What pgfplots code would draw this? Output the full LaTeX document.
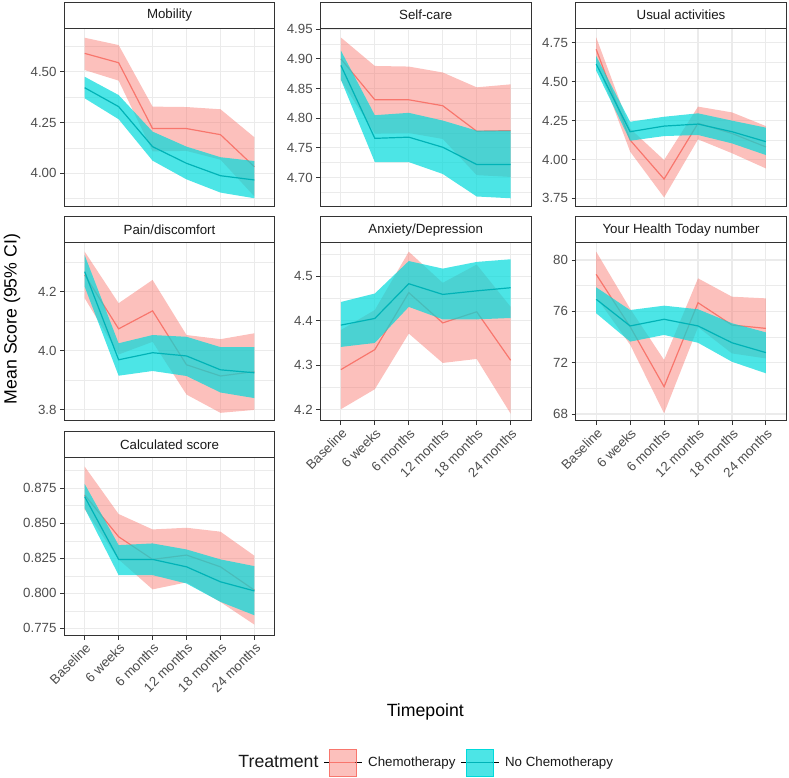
\documentclass[border=0pt]{standalone}
\usepackage{fontspec}
\setmainfont{Liberation Sans}
\usepackage{pgfplots}
\pgfplotsset{compat=1.18}
\usepackage{pgfplotstable}
\usepgfplotslibrary{fillbetween}

\definecolor{chemo}{HTML}{F8766D}
\definecolor{nochemo}{HTML}{00B3B7}
\definecolor{nofill}{RGB}{0,218,219}
\definecolor{gridc}{HTML}{EBEBEB}
\definecolor{bordc}{HTML}{333333}
\definecolor{tickc}{HTML}{4D4D4D}
\definecolor{stripc}{HTML}{1A1A1A}

\pgfplotstableread{
x cl cm cu nl nm nu
0 4.508 4.590 4.667 4.369 4.421 4.475
1 4.456 4.544 4.631 4.266 4.328 4.385
2 4.108 4.220 4.328 4.062 4.131 4.205
3 4.110 4.220 4.326 3.970 4.049 4.131
4 4.067 4.190 4.315 3.905 3.988 4.079
5 3.886 4.032 4.177 3.877 3.967 4.060
}\mobility

\pgfplotstableread{
x cl cm cu nl nm nu
0 4.864 4.900 4.936 4.865 4.889 4.914
1 4.774 4.831 4.888 4.726 4.766 4.805
2 4.775 4.831 4.887 4.726 4.768 4.809
3 4.765 4.821 4.877 4.706 4.751 4.796
4 4.704 4.778 4.852 4.668 4.722 4.779
5 4.701 4.779 4.857 4.665 4.722 4.779
}\selfcare

\pgfplotstableread{
x cl cm cu nl nm nu
0 4.630 4.707 4.784 4.570 4.613 4.664
1 4.050 4.124 4.198 4.120 4.178 4.242
2 3.756 3.874 3.996 4.150 4.214 4.274
3 4.129 4.232 4.339 4.157 4.227 4.296
4 4.040 4.167 4.302 4.103 4.178 4.249
5 3.942 4.080 4.214 4.028 4.114 4.204
}\usual

\pgfplotstableread{
x cl cm cu nl nm nu
0 4.178 4.257 4.336 4.217 4.268 4.324
1 3.987 4.074 4.161 3.915 3.969 4.025
2 4.030 4.135 4.240 3.931 3.993 4.053
3 3.851 3.952 4.053 3.914 3.982 4.047
4 3.789 3.914 4.039 3.858 3.935 4.012
5 3.799 3.929 4.059 3.839 3.925 4.012
}\pain

\pgfplotstableread{
x cl cm cu nl nm nu
0 4.201 4.290 4.379 4.341 4.390 4.442
1 4.246 4.335 4.424 4.350 4.405 4.461
2 4.371 4.463 4.555 4.431 4.483 4.534
3 4.305 4.395 4.485 4.403 4.459 4.517
4 4.314 4.420 4.526 4.403 4.467 4.532
5 4.191 4.311 4.431 4.406 4.474 4.538
}\anxiety

\pgfplotstableread{
x cl cm cu nl nm nu
0 77.10 78.88 80.65 75.85 76.94 77.87
1 73.40 74.80 76.20 73.64 74.86 76.10
2 68.05 70.13 72.21 74.16 75.38 76.44
3 74.77 76.67 78.57 73.55 74.86 76.16
4 72.72 74.93 77.14 72.07 73.55 75.07
5 72.33 74.67 77.01 71.17 72.78 74.36
}\health

\pgfplotstableread{
x cl cm cu nl nm nu
0 0.8600 0.8702 0.8905 0.8607 0.8690 0.8781
1 0.8242 0.8404 0.8566 0.8130 0.8242 0.8344
2 0.8028 0.8242 0.8456 0.8130 0.8242 0.8356
3 0.8078 0.8273 0.8468 0.8070 0.8189 0.8313
4 0.7938 0.8189 0.8440 0.7939 0.8082 0.8242
5 0.7776 0.8022 0.8268 0.7843 0.8017 0.8194
}\calc

\newcommand{\smallfont}{\fontsize{13.3}{15.5}\selectfont}
\newcommand{\bigfont}{\fontsize{17.7}{20}\selectfont}

\pgfplotsset{
  panel/.style={
    set layers,
    scale only axis, width=210.5pt, height=178pt,
    anchor=south west,
    xmin=-0.6, xmax=5.6, xtick={0,1,2,3,4,5},
    axis line style={bordc, line width=0.9pt},
    xmajorgrids, ymajorgrids, yminorgrids,
    major grid style={gridc, line width=1.1pt},
    minor grid style={gridc, line width=0.55pt},
    tick align=outside, xtick pos=left, ytick pos=left,
    major tick length=4.3pt, minor tick length=0pt,
    tick style={bordc, line width=0.9pt},
    ticklabel style={font=\smallfont, text=tickc},
    yticklabel style={inner xsep=3.3pt},
    every axis title shift=0pt,
    title style={at={(0.5,1)}, anchor=south, yshift=0pt, draw=bordc, line width=0.9pt,
      fill=white, minimum width=210.5pt, minimum height=26pt, inner sep=0pt, outer sep=0pt,
      font=\smallfont, text=stripc},
  },
  notbottom/.style={xticklabels={}, xtick style={draw=none}},
  bottom/.style={xticklabels={Baseline,6 weeks,6 months,12 months,18 months,24 months},
    xticklabel style={rotate=45, anchor=north east, inner sep=1.5pt}},
}

\newcommand{\ribbons}[1]{%
  \addplot[draw=none, name path=cu, forget plot] table[x=x,y=cu]{#1};
  \addplot[draw=none, name path=cl, forget plot] table[x=x,y=cl]{#1};
  \addplot[draw=none, name path=nu, forget plot] table[x=x,y=nu]{#1};
  \addplot[draw=none, name path=nl, forget plot] table[x=x,y=nl]{#1};
  \addplot[fill=chemo, fill opacity=0.46, draw=none, forget plot] fill between[of=cu and cl];
  \addplot[chemo, line width=1.2pt, forget plot, on layer=pre main] table[x=x,y=cm]{#1};
  \addplot[fill=nofill, fill opacity=0.7, draw=none, forget plot] fill between[of=nu and nl];
  \addplot[nochemo, line width=1.2pt, forget plot] table[x=x,y=nm]{#1};
}

\begin{document}
\begin{tikzpicture}
\path (0pt,0pt) rectangle (789pt,778pt);

% Row 1
\begin{axis}[panel, notbottom, at={(64.3pt,572pt)}, title={Mobility},
  ymin=3.839, ymax=4.715, ytick={4,4.25,4.5}, yticklabels={4.00,4.25,4.50},
  minor ytick={3.875,4.125,4.375,4.625}]
\ribbons{\mobility}
\end{axis}

\begin{axis}[panel, notbottom, at={(320.5pt,572pt)}, title={Self-care},
  ymin=4.652, ymax=4.952, ytick={4.70,4.75,4.80,4.85,4.90,4.95},
  yticklabels={4.70,4.75,4.80,4.85,4.90,4.95},
  minor ytick={4.675,4.725,4.775,4.825,4.875,4.925}]
\ribbons{\selfcare}
\end{axis}

\begin{axis}[panel, notbottom, at={(575.8pt,572pt)}, title={Usual activities},
  ymin=3.701, ymax=4.844, ytick={3.75,4,4.25,4.5,4.75},
  yticklabels={3.75,4.00,4.25,4.50,4.75},
  minor ytick={3.875,4.125,4.375,4.625}]
\ribbons{\usual}
\end{axis}

% Row 2
\begin{axis}[panel, notbottom, at={(64.3pt,357.2pt)}, title={Pain/discomfort},
  ymin=3.762, ymax=4.366, ytick={3.8,4.0,4.2}, yticklabels={3.8,4.0,4.2},
  minor ytick={3.9,4.1,4.3}]
\ribbons{\pain}
\end{axis}

\begin{axis}[panel, bottom, at={(320.5pt,357.2pt)}, title={Anxiety/Depression},
  ymin=4.175, ymax=4.575, ytick={4.2,4.3,4.4,4.5}, yticklabels={4.2,4.3,4.4,4.5},
  minor ytick={4.25,4.35,4.45,4.55}]
\ribbons{\anxiety}
\end{axis}

\begin{axis}[panel, bottom, at={(575.8pt,357.2pt)}, title={Your Health Today number},
  ymin=67.47, ymax=81.34, ytick={68,72,76,80}, yticklabels={68,72,76,80},
  minor ytick={70,74,78}]
\ribbons{\health}
\end{axis}

% Row 3
\begin{axis}[panel, bottom, at={(64.3pt,142.4pt)}, title={Calculated score},
  ymin=0.7698, ymax=0.8969, ytick={0.775,0.8,0.825,0.85,0.875},
  yticklabels={0.775,0.800,0.825,0.850,0.875},
  minor ytick={0.7875,0.8125,0.8375,0.8625,0.8875},
  legend columns=3,
  legend style={at={(0.799,-0.7129)}, anchor=west, draw=none, fill=none,
    inner sep=0pt, column sep=0pt,
    nodes={inner xsep=5.8pt, inner ysep=0pt, font=\smallfont, text=black!90}},
  legend cell align=left]
\ribbons{\calc}
\addlegendimage{legend image code/.code={}}
\addlegendentry{\bigfont Treatment}
\addlegendimage{legend image code/.code={
  \path (0pt,0pt) -- (37.7pt,0pt);
  \fill[chemo, fill opacity=0.46] (4.5pt,-13.7pt) rectangle (31.9pt,13.7pt);
  \draw[chemo, line width=1.2pt] (6pt,0pt) -- (30.4pt,0pt);}}
\addlegendentry{Chemotherapy}
\addlegendimage{legend image code/.code={
  \path (0pt,0pt) -- (37.7pt,0pt);
  \fill[nofill, fill opacity=0.7] (4.5pt,-13.7pt) rectangle (31.9pt,13.7pt);
  \draw[nochemo, line width=1.2pt] (6pt,0pt) -- (30.4pt,0pt);}}
\addlegendentry{No Chemotherapy}
\end{axis}

\node[rotate=90, font=\bigfont, text=black] at (12pt,459pt) {Mean Score (95\% CI)};
\node[font=\bigfont, text=black] at (425.3pt,66pt) {Timepoint};
\end{tikzpicture}
\end{document}
